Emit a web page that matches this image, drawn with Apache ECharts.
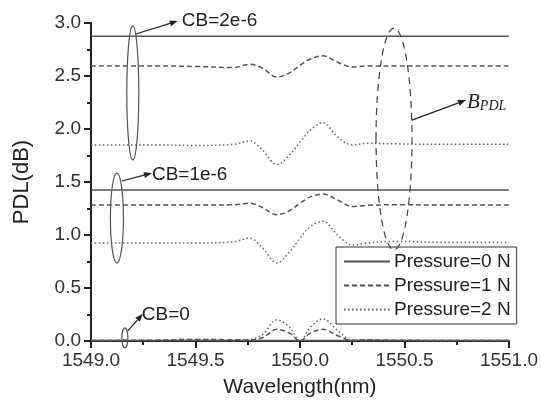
<!DOCTYPE html>
<html>
<head>
<meta charset="utf-8">
<script src="https://cdn.jsdelivr.net/npm/echarts@6/dist/echarts.min.js"></script>
<style>
  html, body { margin: 0; padding: 0; background: #fff; }
  #chart { width: 541px; height: 405px; }
</style>
</head>
<body>
<div id="chart"></div>
<script>
// PDL vs wavelength, three birefringence levels (CB) x three pressures
const wavelength = [1549.0, 1549.3, 1549.5, 1549.68, 1549.76, 1549.82, 1549.89, 1549.95, 1550.0, 1550.05, 1550.11, 1550.18, 1550.25, 1550.32, 1550.45, 1550.7, 1551.0];

// CB = 2e-6
const cb2_p0 = [2.875, 2.875, 2.875, 2.875, 2.875, 2.875, 2.875, 2.875, 2.875, 2.875, 2.875, 2.875, 2.875, 2.875, 2.875, 2.875, 2.875];
const cb2_p1 = [2.595, 2.595, 2.59, 2.58, 2.61, 2.575, 2.49, 2.53, 2.6, 2.66, 2.69, 2.63, 2.585, 2.595, 2.595, 2.595, 2.595];
const cb2_p2 = [1.85, 1.85, 1.845, 1.855, 1.887, 1.8, 1.665, 1.755, 1.877, 1.99, 2.06, 1.925, 1.85, 1.865, 1.86, 1.855, 1.855];

// CB = 1e-6
const cb1_p0 = [1.425, 1.425, 1.425, 1.425, 1.425, 1.425, 1.425, 1.425, 1.425, 1.425, 1.425, 1.425, 1.425, 1.425, 1.425, 1.425, 1.425];
const cb1_p1 = [1.283, 1.283, 1.283, 1.285, 1.3, 1.26, 1.19, 1.23, 1.3, 1.36, 1.387, 1.33, 1.268, 1.28, 1.285, 1.283, 1.283];
const cb1_p2 = [0.925, 0.925, 0.925, 0.935, 0.97, 0.88, 0.736, 0.84, 0.97, 1.08, 1.13, 1.0, 0.905, 0.925, 0.94, 0.93, 0.93];

// CB = 0
const cb0_p0 = [0.004, 0.004, 0.004, 0.004, 0.004, 0.004, 0.004, 0.004, 0.004, 0.004, 0.004, 0.004, 0.004, 0.004, 0.004, 0.004, 0.004];
const cb0_p1 = [0.005, 0.008, 0.015, 0.012, 0.01, 0.03, 0.11, 0.075, 0.0, 0.075, 0.11, 0.05, 0.005, 0.012, 0.008, 0.005, 0.005];
const cb0_p2 = [0.005, 0.008, 0.015, 0.012, 0.015, 0.06, 0.2, 0.13, 0.0, 0.13, 0.21, 0.1, 0.01, 0.012, 0.008, 0.005, 0.005];

const legendNames = ["Pressure=0 N", "Pressure=1 N", "Pressure=2 N"];
const xTicks = { min: 1549.0, max: 1551.0, step: 0.5 };
const yTicks = { min: 0, max: 3, step: 0.5 };

const FONT = "Liberation Sans, Arial, sans-serif";
const styles = [
  { type: "solid", color: "#555", width: 1.5 },
  { type: [5, 3], color: "#555", width: 1.5 },
  { type: [1.5, 2.5], color: "#666", width: 1.5 }
];

const groups = [
  [cb0_p0, cb0_p1, cb0_p2],
  [cb1_p0, cb1_p1, cb1_p2],
  [cb2_p0, cb2_p1, cb2_p2]
];

const series = [];
groups.forEach((g) => {
  g.forEach((vals, i) => {
    series.push({
      type: "line",
      name: legendNames[i],
      data: wavelength.map((w, k) => [w, vals[k]]),
      showSymbol: false,
      symbol: "none",
      smooth: 0.35,
      lineStyle: styles[i],
      itemStyle: { color: styles[i].color },
      z: 2
    });
  });
});

const chart = echarts.init(document.getElementById("chart"), null, { renderer: "canvas" });

chart.setOption({
  animation: false,
  grid: { left: 91, right: 31, top: 23, bottom: 64 },
  legend: {
    data: legendNames,
    orient: "vertical",
    left: 336,
    top: 247,
    padding: [5, 6, 5, 7],
    itemGap: 5,
    itemWidth: 46,
    itemHeight: 10,
    borderColor: "#333",
    borderWidth: 1,
    backgroundColor: "#fff",
    itemStyle: { opacity: 0 },
    textStyle: { fontFamily: FONT, fontSize: 19, color: "#222", padding: [0, 0, 0, -1] },
    z: 10
  },
  xAxis: {
    type: "value",
    min: xTicks.min,
    max: xTicks.max,
    interval: xTicks.step,
    name: "Wavelength(nm)",
    nameLocation: "middle",
    nameGap: 36,
    nameTextStyle: { fontFamily: FONT, fontSize: 21, color: "#222" },
    axisLine: { show: true, onZero: false, lineStyle: { color: "#222", width: 2 } },
    axisTick: { show: true, inside: false, length: 7, lineStyle: { color: "#222", width: 2 } },
    minorTick: { show: true, splitNumber: 2, length: 4, lineStyle: { color: "#222", width: 2 } },
    axisLabel: {
      fontFamily: FONT, fontSize: 19, color: "#333", margin: 10,
      formatter: (v) => v.toFixed(1)
    },
    splitLine: { show: false }
  },
  yAxis: {
    type: "value",
    min: yTicks.min,
    max: yTicks.max,
    interval: yTicks.step,
    name: "PDL(dB)",
    nameLocation: "middle",
    nameGap: 58,
    nameTextStyle: { fontFamily: FONT, fontSize: 22, color: "#222" },
    axisLine: { show: true, lineStyle: { color: "#222", width: 2 } },
    axisTick: { show: true, inside: false, length: 7, lineStyle: { color: "#222", width: 2 } },
    minorTick: { show: true, splitNumber: 2, length: 4, lineStyle: { color: "#222", width: 2 } },
    axisLabel: {
      fontFamily: FONT, fontSize: 19, color: "#333", margin: 10,
      formatter: (v) => v.toFixed(1)
    },
    splitLine: { show: false }
  },
  series: series
});

// annotations: ellipses anchored in data space, with arrows and labels
const px = (w, v) => chart.convertToPixel({ gridIndex: 0 }, [w, v]);

function arrow(p0, p1) {
  const ang = Math.atan2(p1[1] - p0[1], p1[0] - p0[0]);
  const L = 8, W = 3;
  const bx = p1[0] - L * Math.cos(ang), by = p1[1] - L * Math.sin(ang);
  const nx = -Math.sin(ang) * W, ny = Math.cos(ang) * W;
  return [
    { type: "line", shape: { x1: p0[0], y1: p0[1], x2: bx, y2: by }, style: { stroke: "#222", lineWidth: 1.2 }, z: 20 },
    { type: "polygon", shape: { points: [p1, [bx + nx, by + ny], [bx - nx, by - ny]] }, style: { fill: "#222" }, z: 20 }
  ];
}

function ellipse(c, rx, ry, dashed) {
  return {
    type: "ellipse",
    shape: { cx: c[0], cy: c[1], rx: rx, ry: ry },
    style: { fill: null, stroke: dashed ? "#444" : "#555", lineWidth: 1.2, lineDash: dashed ? [7, 5] : null },
    z: 20
  };
}

const e1 = px(1549.2, 2.34);
const e2 = px(1549.124, 1.16);
const e3 = px(1549.162, 0.03);
const e4 = px(1550.45, 1.905);

const labelStyle = (t) => ({ text: t, font: "19px " + FONT, fill: "#222", verticalAlign: "middle" });

const graphics = [
  ellipse(e1, 6, 67, false),
  ellipse(e2, 6.5, 45, false),
  ellipse(e3, 3, 10, false),
  ellipse(e4, 18, 111, true),
  ...arrow([e1[0] + 3, e1[1] - 59], [e1[0] + 45, e1[1] - 72]),
  ...arrow([e2[0] + 5, e2[1] - 37], [e2[0] + 35, e2[1] - 45]),
  ...arrow([e3[0] + 3, e3[1] - 7], [e3[0] + 18, e3[1] - 24]),
  ...arrow([e4[0] + 18, e4[1] - 19], [e4[0] + 72, e4[1] - 39]),
  { type: "text", x: e1[0] + 49, y: e1[1] - 72, style: labelStyle("CB=2e-6"), z: 20 },
  { type: "text", x: e2[0] + 35, y: e2[1] - 43, style: labelStyle("CB=1e-6"), z: 20 },
  { type: "text", x: e3[0] + 17, y: e3[1] - 23, style: labelStyle("CB=0"), z: 20 },
  {
    type: "text", x: e4[0] + 73, y: e4[1] - 50,
    style: {
      text: "{b|B}{s|PDL}",
      rich: {
        b: { fontFamily: "Liberation Serif, serif", fontStyle: "italic", fontSize: 21, fill: "#222", verticalAlign: "bottom", lineHeight: 24 },
        s: { fontFamily: "Liberation Serif, serif", fontStyle: "italic", fontSize: 14, fill: "#222", verticalAlign: "bottom", lineHeight: 19 }
      }
    },
    z: 20
  }
];

chart.setOption({ graphic: graphics });
</script>
</body>
</html>
